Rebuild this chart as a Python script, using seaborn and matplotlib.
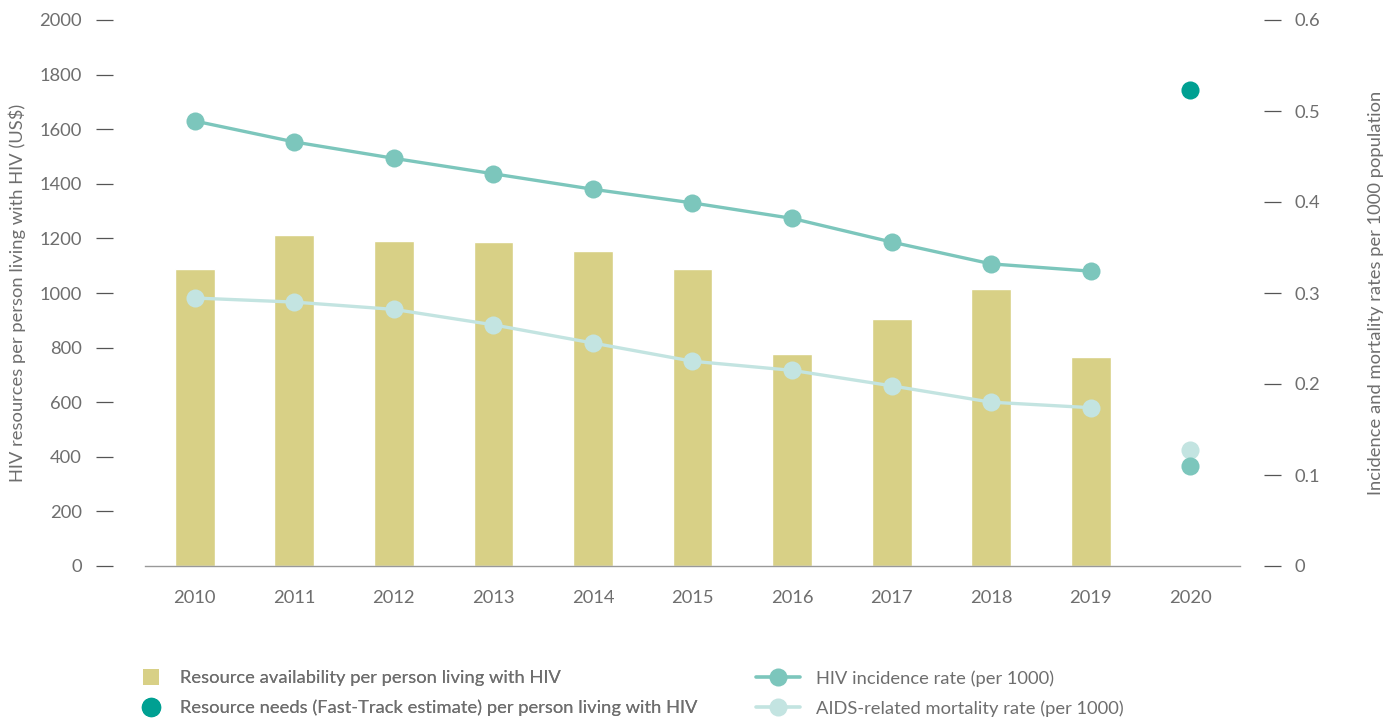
import numpy as np
import pandas as pd
import matplotlib
matplotlib.use("Agg")
import matplotlib.pyplot as plt
from matplotlib.lines import Line2D
import seaborn as sns

# ---- data ----
years = ["2010", "2011", "2012", "2013", "2014", "2015", "2016", "2017", "2018", "2019", "2020"]
bar_years = ["2010", "2011", "2012", "2013", "2014", "2015", "2016", "2017", "2018", "2019"]
resource_availability = [1088, 1212, 1190, 1187, 1154, 1088, 776, 905, 1015, 766]
needs_year = ["2020"]
resource_needs = [1743]
incidence = [0.489, 0.466, 0.448, 0.431, 0.414, 0.399, 0.382, 0.356, 0.332, 0.324]
incidence_2020 = [0.110]
mortality = [0.2945, 0.290, 0.282, 0.265, 0.245, 0.225, 0.215, 0.198, 0.180, 0.174]
mortality_2020 = [0.127]
left_ticks = [0, 200, 400, 600, 800, 1000, 1200, 1400, 1600, 1800, 2000]
right_ticks = [0, 0.1, 0.2, 0.3, 0.4, 0.5, 0.6]
right_labels = ["0", "0.1", "0.2", "0.3", "0.4", "0.5", "0.6"]

C_BAR = "#D8D086"
C_NEED = "#00A092"
C_INC = "#7CC6BC"
C_MORT = "#C3E4E1"
C_TXT = "#6e6e6e"
FS = 13.2

sns.set_theme(style="white")
plt.rcParams["font.family"] = ["Lato", "DejaVu Sans"]

fig = plt.figure(figsize=(13.96, 7.21), dpi=100)
ax = fig.add_axes([145 / 1396, 1 - 566 / 721, (1240 - 145) / 1396, (566 - 20) / 721])

df_bar = pd.DataFrame({"year": bar_years, "value": resource_availability})
sns.barplot(data=df_bar, x="year", y="value", order=years, color=C_BAR,
            width=0.4, saturation=1, ax=ax, zorder=1)

ax.set_xlim(-0.5, 10.5)
ax.set_ylim(0, 2000)
ax.set_yticks(left_ticks)
ax.set_yticklabels([str(t) for t in left_ticks])
ax.set_xlabel("")
ax.set_ylabel("HIV resources per person living with HIV (US$)", fontsize=FS, color=C_TXT)

ax2 = ax.twinx()
ax3 = ax.twinx()
pos = {y: i for i, y in enumerate(years)}
df_line = pd.DataFrame({"x": [pos[y] for y in bar_years], "inc": incidence, "mort": mortality})
sns.lineplot(data=df_line, x="x", y="mort", ax=ax2, color=C_MORT, linewidth=2.4,
             marker="o", markersize=13, markeredgewidth=0, zorder=3)
sns.lineplot(data=df_line, x="x", y="inc", ax=ax2, color=C_INC, linewidth=2.4,
             marker="o", markersize=13, markeredgewidth=0, zorder=4)
df_2020 = pd.DataFrame({"x": [pos[y] for y in needs_year], "inc": incidence_2020,
                        "mort": mortality_2020, "need": resource_needs})
sns.scatterplot(data=df_2020, x="x", y="mort", ax=ax2, color=C_MORT, s=170,
                linewidth=0, zorder=3)
sns.scatterplot(data=df_2020, x="x", y="inc", ax=ax2, color=C_INC, s=170,
                linewidth=0, zorder=4)
ax2.set_ylim(0, 0.6)
ax2.set_xlim(-0.5, 10.5)
ax2.yaxis.tick_right()
ax2.yaxis.set_label_position("right")
ax2.set_yticks(right_ticks)
ax2.set_yticklabels(right_labels)
ax2.set_xlabel("")
ax2.set_ylabel("Incidence and mortality rates per 1000 population", fontsize=FS,
               color=C_TXT, rotation=90)

ax3.set_ylim(0, 2000)
ax3.set_xlim(-0.5, 10.5)
sns.scatterplot(data=df_2020, x="x", y="need", ax=ax3, color=C_NEED, s=170,
                linewidth=0, zorder=5)
ax3.set_axis_off()

# styling
for a in (ax, ax2):
    for s in a.spines.values():
        s.set_visible(False)
ax.spines["bottom"].set_visible(True)
ax.spines["bottom"].set_color("#999999")
ax.spines["bottom"].set_linewidth(1.0)
ax.spines["left"].set_position(("outward", 23))
ax2.spines["right"].set_position(("outward", 17))

ax.tick_params(axis="y", which="both", left=True, right=False, labelleft=True,
               direction="out", length=12.5, width=0.9, color="#555555", pad=10,
               labelsize=FS, labelcolor=C_TXT)
ax.tick_params(axis="x", bottom=False, pad=11, labelsize=FS, labelcolor=C_TXT)
ax2.tick_params(axis="y", which="both", right=True, left=False, labelright=True,
                labelleft=False, direction="out", length=12.5, width=0.9,
                color="#555555", pad=10, labelsize=FS, labelcolor=C_TXT)

ax.yaxis.set_label_coords(-119 / 1095, 0.5)
ax2.yaxis.set_label_coords(1 + 128 / 1095, 0.5)

# legends
h_left = [
    Line2D([], [], linestyle="none", marker="s", markersize=11, color=C_BAR, markeredgewidth=0),
    Line2D([], [], linestyle="none", marker="o", markersize=14, color=C_NEED, markeredgewidth=0),
]
l_left = [
    "Resource availability per person living with HIV",
    "Resource needs (Fast-Track estimate) per person living with HIV",
]
h_right = [
    Line2D([], [], color=C_INC, linewidth=2.6, marker="o", markersize=13, markeredgewidth=0),
    Line2D([], [], color=C_MORT, linewidth=2.6, marker="o", markersize=13, markeredgewidth=0),
]
l_right = ["HIV incidence rate (per 1000)", "AIDS-related mortality rate (per 1000)"]

leg1 = fig.legend(h_left, l_left, loc="upper left",
                  bbox_to_anchor=(131 / 1396, 1 - 663 / 721), frameon=False,
                  fontsize=FS, handlelength=1.4, handletextpad=0.85,
                  labelspacing=0.72, labelcolor=C_TXT, borderaxespad=0)
leg2 = fig.legend(h_right, l_right, loc="upper left",
                  bbox_to_anchor=(749 / 1396, 1 - 663 / 721), frameon=False,
                  fontsize=FS, handlelength=2.4, handletextpad=0.85,
                  labelspacing=0.72, labelcolor=C_TXT, borderaxespad=0)
fig.add_artist(leg1)

fig.savefig("out.png", dpi=100)
